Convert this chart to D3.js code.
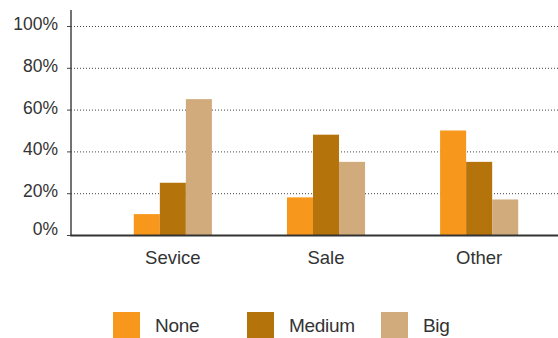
<!DOCTYPE html>
<html>
<head>
<meta charset="utf-8">
<script src="https://cdn.jsdelivr.net/npm/d3@7"></script>
<style>
  html, body { margin: 0; padding: 0; background: #fff; }
  svg { display: block; }
  text { font-family: "Liberation Sans", Arial, Helvetica, sans-serif; fill: #333; }
</style>
</head>
<body>
<svg id="chart" width="558" height="338"></svg>
<script>
// Share of each size class by department
const categories = ["Sevice", "Sale", "Other"];
const seriesNames = ["None", "Medium", "Big"];
const noneValues = [10, 18, 50];
const mediumValues = [25, 48, 35];
const bigValues = [65, 35, 17];
const yTicks = [0, 20, 40, 60, 80, 100];
const colors = ["#F7981D", "#B5730B", "#D1AB7B"];

const series = [noneValues, mediumValues, bigValues];
const rows = categories.map((c, i) => ({
  category: c,
  values: seriesNames.map((s, j) => ({ key: s, value: series[j][i] }))
}));

const svg = d3.select("#chart");
const plotLeft = 71, plotRight = 558, plotTop = 26, plotBottom = 235;

const x0 = d3.scaleBand()
  .domain(categories)
  .range([plotLeft, 581])
  .paddingInner(0.49)
  .paddingOuter(0.41);

const x1 = d3.scaleBand()
  .domain(seriesNames)
  .range([0, x0.bandwidth()])
  .padding(0);

const y = d3.scaleLinear().domain([0, 100]).range([plotBottom, plotTop]);
const color = d3.scaleOrdinal().domain(seriesNames).range(colors);

// dotted horizontal grid
svg.append("g")
  .selectAll("line")
  .data(yTicks.filter(t => t > 0))
  .join("line")
  .attr("x1", plotLeft)
  .attr("x2", plotRight)
  .attr("y1", d => y(d) + 0.5)
  .attr("y2", d => y(d) + 0.5)
  .attr("stroke", "#444")
  .attr("stroke-width", 1)
  .attr("stroke-dasharray", "1,2");

// bars
svg.append("g")
  .selectAll("g")
  .data(rows)
  .join("g")
  .attr("transform", d => `translate(${x0(d.category)},0)`)
  .selectAll("rect")
  .data(d => d.values)
  .join("rect")
  .attr("x", d => x1(d.key))
  .attr("width", x1.bandwidth())
  .attr("y", d => y(d.value))
  .attr("height", d => y(0) - y(d.value))
  .attr("fill", d => color(d.key));

// y axis
const yAxis = d3.axisLeft(y)
  .tickValues(yTicks)
  .tickFormat(d => d + "%")
  .tickSize(4)
  .tickPadding(9);

const gy = svg.append("g")
  .attr("transform", `translate(${plotLeft},0)`)
  .call(yAxis);
gy.select(".domain").remove();
gy.selectAll(".tick line").attr("stroke", "#444");
gy.selectAll(".tick text")
  .style("font-size", "17.5px")
  .attr("fill", "#333")
  .attr("dy", d => d === 0 ? "-0.02em" : "0.2em");

svg.append("line")
  .attr("x1", plotLeft).attr("x2", plotLeft)
  .attr("y1", 10).attr("y2", plotBottom + 1)
  .attr("stroke", "#444").attr("stroke-width", 1.5);

// x axis
const xAxis = d3.axisBottom(x0).tickSize(0).tickPadding(16);
const gx = svg.append("g")
  .attr("transform", `translate(0,${plotBottom})`)
  .call(xAxis);
gx.select(".domain").remove();
gx.selectAll(".tick text")
  .style("font-size", "18.5px")
  .attr("fill", "#333");

svg.append("line")
  .attr("x1", plotLeft - 0.75).attr("x2", plotRight)
  .attr("y1", plotBottom + 0.5).attr("y2", plotBottom + 0.5)
  .attr("stroke", "#333").attr("stroke-width", 1.8);

// legend
const legendX = [113, 247, 381];
const legend = svg.append("g")
  .selectAll("g")
  .data(seriesNames)
  .join("g")
  .attr("transform", (d, i) => `translate(${legendX[i]},312)`);
legend.append("rect")
  .attr("width", 27).attr("height", 26)
  .attr("fill", d => color(d));
legend.append("text")
  .attr("x", 42).attr("y", 19.5)
  .style("font-size", "19px")
  .style("letter-spacing", "-0.3px")
  .attr("fill", "#333")
  .text(d => d);
</script>
</body>
</html>
